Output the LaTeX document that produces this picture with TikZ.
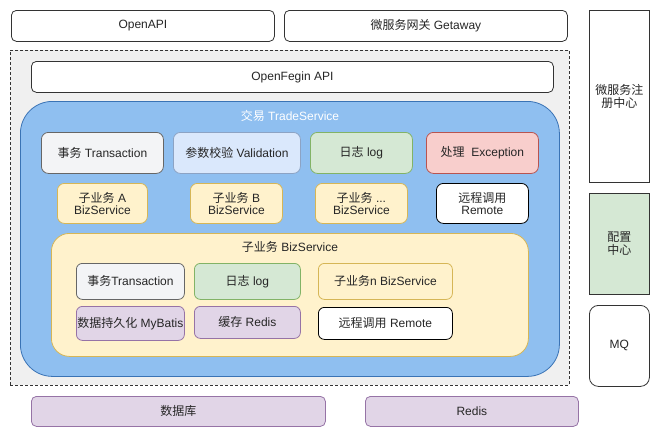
\documentclass[tikz,border=0pt]{standalone}
\usepackage{fontspec}
\setmainfont{Liberation Sans}
\newfontfamily\cjkfont{Noto Sans CJK SC}
\newcommand\zh[1]{{\cjkfont #1}}
\definecolor{tradefill}{HTML}{8FBFF0}
\definecolor{tradeline}{HTML}{3A73B5}
\definecolor{dashfill}{HTML}{F0F0F0}
\definecolor{grayfill}{HTML}{F3F4F6}
\definecolor{grayline}{HTML}{666666}
\definecolor{bluefill}{HTML}{DAE8FC}
\definecolor{blueline}{HTML}{8CA3C4}
\definecolor{greenfill}{HTML}{D5E8D4}
\definecolor{greenline}{HTML}{82B366}
\definecolor{redfill}{HTML}{F8CECC}
\definecolor{redline}{HTML}{B85450}
\definecolor{yelfill}{HTML}{FFF2CC}
\definecolor{yelline}{HTML}{D6B656}
\definecolor{purfill}{HTML}{E1D5E7}
\definecolor{purline}{HTML}{9673A6}
\definecolor{darkline}{HTML}{333333}
\tikzset{
  bx/.style={draw=darkline, line width=0.8pt, rounded corners=5pt, inner sep=0pt,
    anchor=north west, align=center, font=\fontsize{12}{14}\selectfont, text=black!85},
  whitebox/.style={bx, fill=white},
  graybox/.style={bx, fill=grayfill, draw=grayline},
  bluebox/.style={bx, fill=bluefill, draw=blueline},
  greenbox/.style={bx, fill=greenfill, draw=greenline},
  redbox/.style={bx, fill=redfill, draw=redline},
  yelbox/.style={bx, fill=yelfill, draw=yelline},
  purbox/.style={bx, fill=purfill, draw=purline},
  sz/.style n args={2}{minimum width=#1pt, minimum height=#2pt},
}
\begin{document}
\begin{tikzpicture}[x=1pt,y=-1pt]
\useasboundingbox (0,0) rectangle (660,437);
% top
\node[whitebox, sz={263}{31}] (openapi) at (11,10) {OpenAPI};
\node[whitebox, sz={283}{31}] (gateway) at (284,10) {\zh{微服务网关} Getaway};
% right column
\node[whitebox, rounded corners=0pt, sz={60}{172}] (registry) at (589,10) {\zh{微服务注}\\[-1pt]\zh{册中心}};
\node[greenbox, draw=darkline, rounded corners=0pt, sz={60}{101}] (config) at (589,193) {\zh{配置}\\[-1pt]\zh{中心}};
\node[whitebox, rounded corners=9pt, sz={60}{81}] (mq) at (589,305) {MQ};
% dashed container
\node[bx, rounded corners=0pt, fill=dashfill, draw=darkline, dashed, dash pattern=on 3pt off 2pt, sz={559}{335}] (container) at (10,50) {};
\node[whitebox, sz={522}{31}] (openfegin) at (31,61) {OpenFegin API};
% trade service
\node[bx, fill=tradefill, draw=tradeline, rounded corners=32pt, sz={539}{275}] (trade) at (20,101) {};
\node[font=\fontsize{12}{14}\selectfont, text=white, inner sep=0pt] (tradetitle) at (290,116) {\zh{交易} TradeService};
% row 1
\node[graybox, rounded corners=7pt, sz={122}{41}] (tx) at (41,132) {\zh{事务} Transaction};
\node[bluebox, rounded corners=7pt, sz={127}{41}] (valid) at (173,132) {\zh{参数校验} Validation};
\node[greenbox, rounded corners=7pt, sz={102}{41}] (log) at (310,132) {\zh{日志} log};
\node[redbox, rounded corners=7pt, sz={112}{41}] (exc) at (426,132) {\zh{处理}\ \ Exception};
% row 2
\node[yelbox, rounded corners=7pt, sz={90}{40}] (bizA) at (57,183) {\zh{子业务} A\\[-2pt]BizService};
\node[yelbox, rounded corners=7pt, sz={92}{40}] (bizB) at (190,183) {\zh{子业务} B\\[-2pt]BizService};
\node[yelbox, rounded corners=7pt, sz={92}{40}] (bizDots) at (315,183) {\zh{子业务} ...\\[-2pt]BizService};
\node[whitebox, draw=black, rounded corners=7pt, sz={92}{40}] (remote1) at (436,183) {\zh{远程调用}\\[-2pt]Remote};
% inner biz service
\node[yelbox, rounded corners=18pt, sz={477}{123}] (biz) at (51,233) {};
\node[font=\fontsize{12}{14}\selectfont, text=black!85, inner sep=0pt] (biztitle) at (290,247) {\zh{子业务} BizService};
\node[graybox, rounded corners=6pt, sz={108}{36}] (tx2) at (76,263) {\zh{事务}Transaction};
\node[greenbox, rounded corners=6pt, sz={106}{36}] (log2) at (194,263) {\zh{日志} log};
\node[yelbox, rounded corners=6pt, sz={134}{36}] (bizN) at (318,263) {\zh{子业务}n BizService};
\node[purbox, rounded corners=6pt, sz={108}{34}] (mybatis) at (76,306) {\zh{数据持久化} MyBatis};
\node[purbox, rounded corners=6pt, sz={106}{32}] (cache) at (194,306) {\zh{缓存} Redis};
\node[whitebox, draw=black, rounded corners=6pt, sz={134}{32}] (remote2) at (318,307) {\zh{远程调用} Remote};
% bottom
\node[purbox, sz={294}{30}] (db) at (31,396) {\zh{数据库}};
\node[purbox, sz={213}{30}] (redis) at (365,396) {Redis};
\end{tikzpicture}
\end{document}
